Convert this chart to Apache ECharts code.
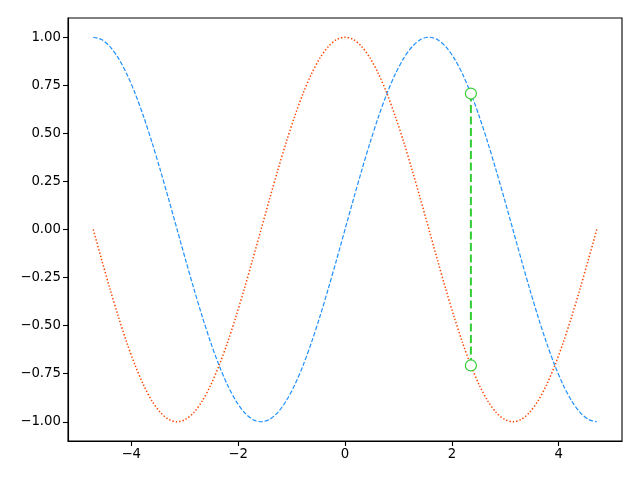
<!DOCTYPE html>
<html><head><meta charset="utf-8">
<script src="https://cdn.jsdelivr.net/npm/echarts@6/dist/echarts.min.js"></script>
<style>html,body{margin:0;padding:0;background:#fff}#c{width:640px;height:480px}</style>
</head><body><div id="c"></div>
<script>
const xValues = [-4.712,-4.555,-4.398,-4.241,-4.084,-3.927,-3.770,-3.613,-3.456,-3.299,-3.142,-2.985,-2.827,-2.670,-2.513,-2.356,-2.199,-2.042,-1.885,-1.728,-1.571,-1.414,-1.257,-1.100,-0.942,-0.785,-0.628,-0.471,-0.314,-0.157,0,
0.157,0.314,0.471,0.628,0.785,0.942,1.100,1.257,1.414,1.571,1.728,1.885,2.042,2.199,2.356,2.513,2.670,2.827,2.985,3.142,3.299,3.456,3.613,3.770,3.927,4.084,4.241,4.398,4.555,4.712];
const sinValues = [1,0.9877,0.9511,0.8910,0.8090,0.7071,0.5878,0.4540,0.3090,0.1564,0,-0.1564,-0.3090,-0.4540,-0.5878,-0.7071,-0.8090,-0.8910,-0.9511,-0.9877,-1,-0.9877,-0.9511,-0.8910,-0.8090,-0.7071,-0.5878,-0.4540,-0.3090,-0.1564,0,
0.1564,0.3090,0.4540,0.5878,0.7071,0.8090,0.8910,0.9511,0.9877,1,0.9877,0.9511,0.8910,0.8090,0.7071,0.5878,0.4540,0.3090,0.1564,0,-0.1564,-0.3090,-0.4540,-0.5878,-0.7071,-0.8090,-0.8910,-0.9511,-0.9877,-1];
const cosValues = [0,-0.1564,-0.3090,-0.4540,-0.5878,-0.7071,-0.8090,-0.8910,-0.9511,-0.9877,-1,-0.9877,-0.9511,-0.8910,-0.8090,-0.7071,-0.5878,-0.4540,-0.3090,-0.1564,0,0.1564,0.3090,0.4540,0.5878,0.7071,0.8090,0.8910,0.9511,0.9877,1,
0.9877,0.9511,0.8910,0.8090,0.7071,0.5878,0.4540,0.3090,0.1564,0,-0.1564,-0.3090,-0.4540,-0.5878,-0.7071,-0.8090,-0.8910,-0.9511,-0.9877,-1,-0.9877,-0.9511,-0.8910,-0.8090,-0.7071,-0.5878,-0.4540,-0.3090,-0.1564,0];
const segX = [2.356, 2.356];
const segY = [0.7071, -0.7071];
const xTicks = [-4,-2,0,2,4];
const yTicks = [-1,-0.75,-0.5,-0.25,0,0.25,0.5,0.75,1];

const zip = (a,b) => a.map((v,i)=>[v,b[i]]);
const fmt = s => s.replace('-', '\u2212');
const font = {fontFamily:'DejaVu Sans', fontSize:13.3, color:'#000'};
const chart = echarts.init(document.getElementById('c'), null, {renderer:'canvas'});
chart.setOption({
  animation:false,
  backgroundColor:'#fff',
  grid:{left:68, right:18, top:18, bottom:39, show:true, borderColor:'#000', borderWidth:1.1, backgroundColor:'transparent'},
  xAxis:{type:'value', min:-5.184, max:5.184,
    axisLine:{show:true, onZero:false, lineStyle:{color:'#000', width:1.1}}, splitLine:{show:false},
    axisTick:{show:true, length:5, customValues:xTicks, lineStyle:{color:'#000', width:1.1}},
    axisLabel:{show:true, margin:7, customValues:xTicks, formatter:v=>fmt(String(v)), ...font}},
  yAxis:{type:'value', min:-1.1, max:1.1,
    axisLine:{show:true, onZero:false, lineStyle:{color:'#000', width:1.1}}, splitLine:{show:false},
    axisTick:{show:true, length:5, customValues:yTicks, lineStyle:{color:'#000', width:1.1}},
    axisLabel:{show:true, margin:7, customValues:yTicks, formatter:v=>fmt(v.toFixed(2)), ...font}},
  series:[
    {type:'line', data:zip(xValues,sinValues), showSymbol:false, smooth:0.3,
     lineStyle:{color:'#1e90ff', width:1.2, type:[4.4,1.9]}},
    {type:'line', data:zip(xValues,cosValues), showSymbol:false, smooth:0.3,
     lineStyle:{color:'#ff4500', width:1.5, type:[1.4,2]}},
    {type:'line', data:zip(segX,segY), symbol:'circle', symbolSize:11, showSymbol:true,
     itemStyle:{color:'#fff', borderColor:'#32cd32', borderWidth:1.2},
     lineStyle:{color:'#32cd32', width:2, type:[8,3.5]}, z:5}
  ]
});
</script></body></html>
